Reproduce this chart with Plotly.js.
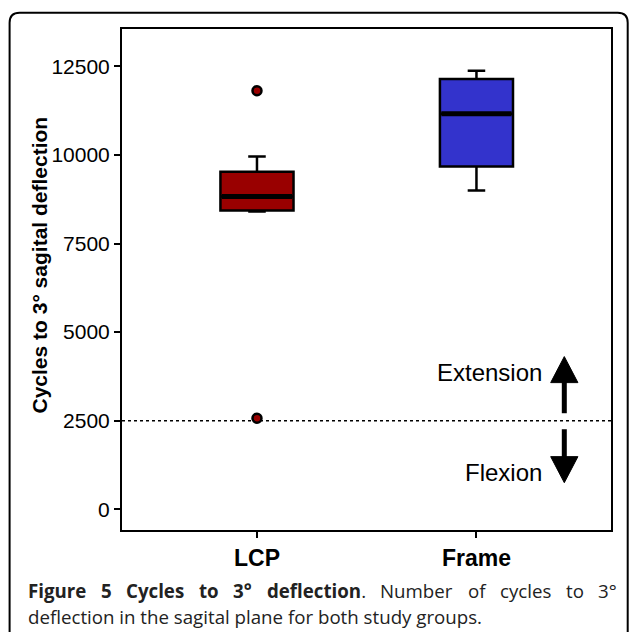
<!DOCTYPE html>
<html><head><meta charset="utf-8">
<script src="https://cdn.plot.ly/plotly-3.0.1.min.js"></script>
<style>html,body{margin:0;padding:0;background:#fff;overflow:hidden}#chart{width:629px;height:632px}</style>
</head><body><div id="chart"></div>
<script>
// ---- data ----
const groups = ['LCP', 'Frame'];
const boxColors = ['#990000', '#3333CC'];
const q1Values = [8433, 9675];
const medianValues = [8828, 11163];
const q3Values = [9525, 12143];
const lowerWhiskers = [8404, 8997];
const upperWhiskers = [9958, 12378];
const outlierGroups = ['LCP', 'LCP'];
const outlierValues = [11813, 2570];
const yTickValues = [0, 2500, 5000, 7500, 10000, 12500];
const thresholdValue = 2500;
const yTitle = 'Cycles to 3° sagital deflection';
const captionBoldWords = ['Figure', '5', 'Cycles', 'to', '3°', 'deflection'];
const captionLine1Words = ['.', 'Number', 'of', 'cycles', 'to', '3°'];
const captionLine2 = 'deflection in the sagital plane for both study groups.';

// ---- layout helpers (pixel -> paper) ----
const M = {l: 122, r: 18, t: 29, b: 102};
const W = 629 - M.l - M.r, H = 632 - M.t - M.b;
const px = x => (x - M.l) / W;
const py = y => (632 - M.b - y) / H;

const traces = [];
groups.forEach((g, i) => {
  traces.push({
    type: 'box', x: [g], q1: [q1Values[i]], median: [medianValues[i]], q3: [q3Values[i]],
    lowerfence: [lowerWhiskers[i]], upperfence: [upperWhiskers[i]],
    fillcolor: boxColors[i], line: {color: '#000', width: 2.5},
    whiskerwidth: 0.24, width: 0.333, boxpoints: false, hoverinfo: 'skip', showlegend: false
  });
});
// thick median bars
traces.push({
  type: 'box', x: groups, q1: medianValues, median: medianValues, q3: medianValues,
  lowerfence: medianValues, upperfence: medianValues,
  fillcolor: 'rgba(0,0,0,0)', line: {color: '#000', width: 5},
  whiskerwidth: 0, width: 0.32, boxpoints: false, hoverinfo: 'skip', showlegend: false
});
traces.push({
  type: 'scatter', mode: 'markers', x: outlierGroups, y: outlierValues,
  marker: {size: 9, color: '#990000', line: {color: '#000', width: 2.5}},
  hoverinfo: 'skip', showlegend: false
});

// outer rounded frame
const bl = px(9.6), br = px(627.7), bt = py(12.7), bb = py(700);
const rx = 10 / W, ry = 10 / H;
const borderPath = `M ${bl},${bb} L ${bl},${bt - ry} Q ${bl},${bt} ${bl + rx},${bt} L ${br - rx},${bt} Q ${br},${bt} ${br},${bt - ry} L ${br},${bb}`;

const ax = px(564.3), hw = 13.6 / W;
const shapes = [
  {type: 'line', xref: 'paper', yref: 'y', x0: 0, x1: 1, y0: thresholdValue, y1: thresholdValue,
   line: {color: '#000', width: 1.5, dash: 'dot'}, layer: 'below'},
  {type: 'line', xref: 'paper', yref: 'y', x0: ax, x1: ax, y0: 2711, y1: 3600, line: {color: '#000', width: 5}},
  {type: 'path', xref: 'paper', yref: 'y', path: `M ${ax - hw},3575 L ${ax + hw},3575 L ${ax},4310 Z`,
   fillcolor: '#000', line: {color: '#000', width: 1}},
  {type: 'line', xref: 'paper', yref: 'y', x0: ax, x1: ax, y0: 2259, y1: 1460, line: {color: '#000', width: 5}},
  {type: 'path', xref: 'paper', yref: 'y', path: `M ${ax - hw},1486 L ${ax + hw},1486 L ${ax},751 Z`,
   fillcolor: '#000', line: {color: '#000', width: 1}},
  {type: 'path', xref: 'paper', yref: 'paper', path: borderPath, line: {color: '#000', width: 2}}
];

const arial = 'Liberation Sans, Arial, sans-serif';
const capFont = 'Open Sans, sans-serif';
const capSize = 18.7;
const annotations = [
  {xref: 'paper', yref: 'y', x: px(544), y: 3858, xanchor: 'right', yanchor: 'middle', showarrow: false,
   text: 'Extension', font: {family: arial, size: 24, color: '#000'}},
  {xref: 'paper', yref: 'y', x: px(544), y: 1034, xanchor: 'right', yanchor: 'middle', showarrow: false,
   text: 'Flexion', font: {family: arial, size: 24, color: '#000'}},
  {xref: 'paper', yref: 'paper', x: px(39), y: py(265.5), xanchor: 'center', yanchor: 'middle', showarrow: false,
   textangle: -90, text: '<b>' + yTitle + '</b>', font: {family: arial, size: 21, color: '#000'}}
];

// caption line 1: justified between x=27 and x=616 (words measured, gaps spread evenly)
const ctx = document.createElement('canvas').getContext('2d');
const measure = (t, bold) => { ctx.font = (bold ? 'bold ' : '') + capSize + "px 'Open Sans'"; return ctx.measureText(t).width; };
const words = captionBoldWords.slice(0, -1).map(w => ({text: '<b>' + w + '</b>', w: measure(w, true)}));
const lastBold = captionBoldWords[captionBoldWords.length - 1];
words.push({text: '<b>' + lastBold + '</b>' + captionLine1Words[0], w: measure(lastBold, true) + measure(captionLine1Words[0], false)});
captionLine1Words.slice(1).forEach(w => words.push({text: w, w: measure(w, false)}));
const lineL = 27, lineR = 616;
const total = words.reduce((s, o) => s + o.w, 0);
const gap = (lineR - lineL - total) / (words.length - 1);
let cx = lineL;
words.forEach(o => {
  annotations.push({
    xref: 'paper', yref: 'paper', x: px(cx - 1), y: py(590), xanchor: 'left', yanchor: 'middle', showarrow: false,
    text: o.text, font: {family: capFont, size: capSize, color: '#222'}
  });
  cx += o.w + gap;
});
annotations.push({
  xref: 'paper', yref: 'paper', x: px(26), y: py(616.5), xanchor: 'left', yanchor: 'middle', showarrow: false,
  text: captionLine2, font: {family: capFont, size: capSize, color: '#222'}
});

const layout = {
  width: 629, height: 632, margin: M, paper_bgcolor: '#fff', plot_bgcolor: '#fff',
  showlegend: false, boxmode: 'overlay',
  xaxis: {
    type: 'category', categoryorder: 'array', categoryarray: groups, range: [-0.615, 1.613],
    showline: true, linewidth: 2, linecolor: '#000', mirror: true, showgrid: false, zeroline: false,
    ticks: 'outside', ticklen: 6, tickwidth: 2, tickcolor: '#000', ticklabelstandoff: 0,
    tickfont: {family: arial, size: 23, color: '#000', weight: 'bold'}, fixedrange: true
  },
  yaxis: {
    range: [-585, 13556], tickmode: 'array', tickvals: yTickValues, ticktext: yTickValues.map(String),
    showline: true, linewidth: 2, linecolor: '#000', mirror: true, showgrid: false, zeroline: false,
    ticks: 'outside', ticklen: 6, tickwidth: 2, tickcolor: '#000',
    tickfont: {family: arial, size: 21, color: '#000'}, fixedrange: true
  },
  shapes: shapes, annotations: annotations
};
Plotly.newPlot('chart', traces, layout, {staticPlot: true, displayModeBar: false});
</script></body></html>
